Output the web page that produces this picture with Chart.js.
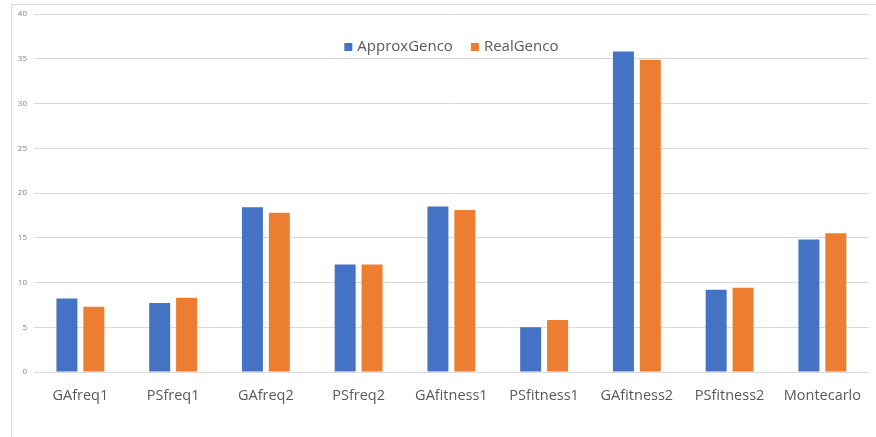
<!DOCTYPE html>
<html>
<head>
<meta charset="utf-8">
<script src="https://cdn.jsdelivr.net/npm/chart.js@4"></script>
<style>
  html, body { margin: 0; padding: 0; background: #fff; }
  #wrap { position: relative; width: 876px; height: 437px; overflow: hidden; }
  #frame { position: absolute; left: 11px; top: 4px; width: 900px; height: 460px;
           border-left: 1px solid #d9d9d9; border-top: 1px solid #d9d9d9; box-sizing: border-box; }
  canvas { position: absolute; left: 0; top: 0; }
</style>
</head>
<body>
<div id="wrap">
  <div id="frame"></div>
  <canvas id="c" width="876" height="437"></canvas>
</div>
<script>
const categories = ["GAfreq1", "PSfreq1", "GAfreq2", "PSfreq2", "GAfitness1", "PSfitness1", "GAfitness2", "PSfitness2", "Montecarlo"];
const approxGenco = [8.2, 7.7, 18.4, 12.0, 18.5, 5.0, 35.8, 9.2, 14.8];
const realGenco = [7.3, 8.3, 17.8, 12.0, 18.1, 5.8, 34.9, 9.4, 15.5];
const yTicks = [0, 5, 10, 15, 20, 25, 30, 35, 40];

const FONT = "'Open Sans', sans-serif";

// Legend drawn inside the plot area, centred near the top (as in the reference)
const insideLegend = {
  id: 'insideLegend',
  afterDatasetsDraw(chart) {
    const ctx = chart.ctx;
    const ca = chart.chartArea;
    const box = 8, gapText = 5, gapItem = 18;
    ctx.save();
    ctx.font = "15px " + FONT;
    ctx.textBaseline = 'middle';
    const items = chart.data.datasets.map(d => ({ label: d.label, color: d.backgroundColor, w: ctx.measureText(d.label).width }));
    let total = 0;
    items.forEach((it, i) => { total += box + gapText + it.w + (i ? gapItem : 0); });
    let x = (ca.left + ca.right) / 2 - total / 2;
    const y = ca.top + 33;
    items.forEach(it => {
      ctx.fillStyle = it.color;
      ctx.fillRect(x, y - 4, box, box);
      x += box + gapText;
      ctx.fillStyle = '#595959';
      ctx.fillText(it.label, x, y);
      x += it.w + gapItem;
    });
    ctx.restore();
  }
};

new Chart(document.getElementById('c'), {
  type: 'bar',
  data: {
    labels: categories,
    datasets: [
      { label: 'ApproxGenco', data: approxGenco, backgroundColor: '#4472C4',
        categoryPercentage: 0.58, barPercentage: 0.78 },
      { label: 'RealGenco', data: realGenco, backgroundColor: '#ED7D31',
        categoryPercentage: 0.58, barPercentage: 0.78 }
    ]
  },
  plugins: [insideLegend],
  options: {
    responsive: false,
    animation: false,
    layout: { padding: { left: 12, right: 0, top: 14, bottom: 0 } },
    plugins: {
      tooltip: { enabled: false },
      legend: { display: false }
    },
    scales: {
      x: {
        grid: { display: false, drawTicks: false },
        border: { display: false },
        ticks: { color: '#595959', font: { family: FONT, size: 14.5 }, padding: 15, maxRotation: 0 },
        afterFit: (s) => { s.height = 65; }
      },
      y: {
        min: 0, max: 40,
        afterBuildTicks: (s) => { s.ticks = yTicks.map(v => ({ value: v })); },
        grid: { color: '#d9d9d9', lineWidth: 1, drawTicks: false },
        border: { display: false },
        ticks: { color: '#7f7f7f', font: { family: FONT, size: 8 }, padding: 7 },
        afterFit: (s) => { s.width = 22; }
      }
    }
  }
});
</script>
</body>
</html>
